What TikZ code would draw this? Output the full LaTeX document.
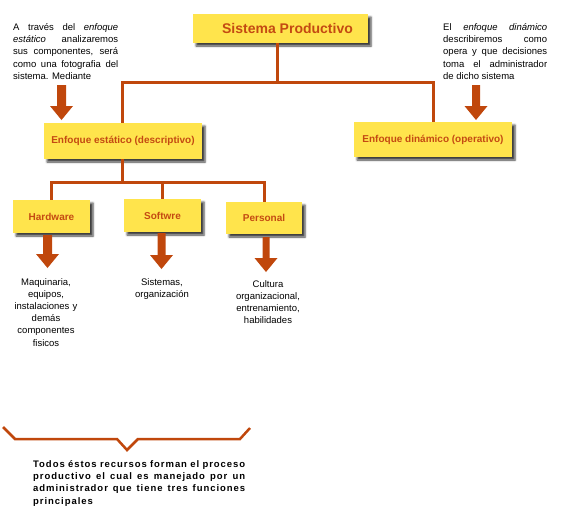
\documentclass[tikz,border=0pt]{standalone}
\usepackage{fontspec}
\setmainfont{Liberation Sans}
\usetikzlibrary{shadows.blur}
\definecolor{boxyellow}{HTML}{FFE44C}
\definecolor{linebrown}{HTML}{C0470C}
\definecolor{txtbrown}{HTML}{C44A12}
\newcommand\blockarrow[4]{% x, ytop, ytip, shaft half width
  \fill[linebrown] (#1-#4,#2) -- (#1+#4,#2) -- (#1+#4,#3-14) -- (#1+11.5,#3-14)
    -- (#1,#3) -- (#1-11.5,#3-14) -- (#1-#4,#3-14) -- cycle;}
\begin{document}
\begin{tikzpicture}[x=1pt,y=-1pt,
  ybox/.style={fill=boxyellow, draw=none, inner sep=0pt, text=txtbrown,
    font=\fontsize{10}{12}\selectfont\bfseries,
    blur shadow={shadow xshift=3pt, shadow yshift=-3pt, shadow blur radius=2pt, shadow opacity=75}},
  conn/.style={draw=linebrown, line width=3pt},
  note/.style={inner sep=0pt, anchor=north west, align=justify,
    font=\fontsize{9.5}{12.4}\selectfont},
  item/.style={inner sep=0pt, anchor=north, align=center, text width=90pt,
    font=\fontsize{9.5}{12.2}\selectfont}
]
\useasboundingbox (0,0) rectangle (567,517);

% boxes
\node[ybox, minimum width=175pt, minimum height=29pt,
  font=\fontsize{14}{16}\selectfont\bfseries] (sp) at (280.5,28.5) {\hspace*{14pt}Sistema Productivo};
\node[ybox, minimum width=158pt, minimum height=36pt] (ee) at (123,141) {Enfoque estático (descriptivo)};
\node[ybox, minimum width=158pt, minimum height=35pt] (ed) at (433,139.5) {Enfoque dinámico (operativo)};
\node[ybox, minimum width=77pt, minimum height=33pt] (hw) at (51.5,216.5) {Hardware};
\node[ybox, minimum width=77pt, minimum height=33pt] (sw) at (162.5,215.5) {Softwre};
\node[ybox, minimum width=76pt, minimum height=32pt] (pe) at (264,218) {Personal};

% connectors
\coordinate (j1) at (277,82);
\coordinate (j2) at (122,182);
\draw[conn] (sp.south -| j1) -- (j1);
\draw[conn] (ee.north -| j2) |- (j1) -| (ed.north);
\draw[conn] (ee.south -| j2) -- (j2);
\draw[conn] (hw.north) |- (j2) -| (pe.north);
\draw[conn] (sw.north) -- (sw.north |- j2);

% arrows
\blockarrow{61.5}{85}{120}{4.5}
\blockarrow{476}{85}{120}{4}
\blockarrow{47.5}{235}{268}{4.5}
\blockarrow{161.5}{233}{269}{4}
\blockarrow{266}{237}{272}{3.5}

% notes
\node[note, text width=105pt] (nl) at (13,23) {A través del \textit{enfoque}\linebreak \textit{estático} analizaremos\linebreak sus componentes, será\linebreak como una fotografia del\linebreak sistema. Mediante};
\node[note, text width=104pt] (nr) at (443,23) {El \textit{enfoque dinámico}\linebreak describiremos como\linebreak opera y que decisiones\linebreak toma el administrador\linebreak de dicho sistema};

\node[item] (thw) at (46,278) {Maquinaria,\\ equipos,\\ instalaciones y\\ demás\\ componentes\\ fisicos};
\node[item] (tsw) at (162,278) {Sistemas,\\ organización};
\node[item] (tpe) at (268,280) {Cultura\\ organizacional,\\ entrenamiento,\\ habilidades};

% brace
\draw[linebrown, line width=2.5pt] (3,427) -- (15,439) -- (117,439) -- (127,450) -- (138,439) -- (240,439) -- (250,428);

\node[note, text width=212pt, font=\fontsize{9.5}{12.3}\selectfont\bfseries\addfontfeatures{LetterSpace=10}] (bt) at (33,460)
  {Todos éstos recursos forman el proceso\linebreak productivo el cual es manejado por un\linebreak administrador que tiene tres funciones\linebreak principales\hfill\null};
\end{tikzpicture}
\end{document}
